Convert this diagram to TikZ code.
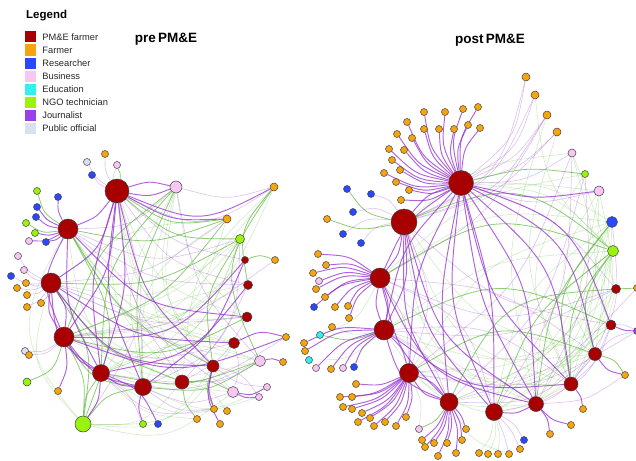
\documentclass[tikz,border=0pt]{standalone}
\usepackage{fontspec}
\setmainfont{Liberation Sans}
\usepackage{tikz}
\usetikzlibrary{positioning,backgrounds}

\definecolor{pmfarm}{HTML}{A80000}
\definecolor{farmer}{HTML}{F6A511}
\definecolor{research}{HTML}{2A48FF}
\definecolor{business}{HTML}{F7C6F2}
\definecolor{educ}{HTML}{33F0F0}
\definecolor{ngo}{HTML}{9AF20F}
\definecolor{journ}{HTML}{9B40E8}
\definecolor{public}{HTML}{D9E0EE}
\definecolor{epurple}{HTML}{9430D0}
\definecolor{egreen}{HTML}{5CB83A}

\tikzset{
	nd/.style={circle, draw=black!75, line width=0.5pt, inner sep=0pt},
	pe/.style={draw=epurple, draw opacity=0.75, line width=0.95pt},
	pl/.style={draw=epurple, draw opacity=0.3, line width=0.6pt},
	ge/.style={draw=egreen, draw opacity=0.7, line width=0.8pt},
	gl/.style={draw=egreen, draw opacity=0.28, line width=0.6pt},
	legbox/.style={minimum size=11pt, inner sep=0pt},
	legtext/.style={anchor=west, inner sep=0pt, font=\fontsize{9.3}{11}\selectfont, text=black!85},
	ttl/.style={font=\bfseries\fontsize{13.5}{15}\selectfont}
}

\begin{document}
\begin{tikzpicture}[x=1pt,y=-1pt]
	\useasboundingbox (0,0) rectangle (636,460);
	\clip (0,0) rectangle (636,460);

	% Legend
	\node[anchor=west, inner sep=0pt, font=\bfseries\fontsize{11.5}{13}\selectfont] (legtitle) at (26,16) {Legend};
	\foreach \t/\c [count=\i] in {PM\&E farmer/pmfarm, Farmer/farmer, Researcher/research, Business/business, Education/educ, NGO technician/ngo, Journalist/journ, Public official/public}{
		\node[legbox, fill=\c] (leg\i) at (30.5,24+13*\i) {};
		\node[legtext, right=6pt of leg\i] (legt\i) {\t};
	}

	% Titles
	\node[ttl] (pretitle) at (166,39) {pre\,PM\&E};
	\node[ttl] (posttitle) at (490,40) {post\,PM\&E};

	%pre PM&E network
	%hubs
	\foreach \n/\x/\y/\d in {lA/117/191/24, lB/68/229/20, lC/51/283/20, lD/64/337/20, lE/101/373/17, lF/143/387/17, lG/182/382/14, lH/213/366/12, lI/234/343/11, lJ/247/317/10, lK/248/285/9, lL/245/260/7}
		\node[nd, fill=pmfarm, minimum size=\d] (\n) at (\x,\y) {};
	%others
	\foreach \n/\x/\y/\c/\d in {l1/176/187/business/12, l2/274/187/farmer/8, l3/227/219/farmer/8, l4/240/239/ngo/9, l5/275/260/farmer/7, l6/286/337/farmer/7, l7/260/361/business/11, l8/283/362/farmer/7, l9/233/392/business/11, l10/267/387/business/7, l11/259/397/business/7, l12/214/409/farmer/7, l13/227/411/farmer/7, l14/220/424/farmer/7, l15/197/419/farmer/7, l16/143/424/ngo/7, l17/158/424/research/7, l18/83/424/ngo/16, l19/58/391/farmer/7, l20/27/382/ngo/8, l21/25/351/public/7, l22/29/355/farmer/7, l23/18/256/business/7, l24/24/270/business/7, l25/11/276/research/7, l26/26/283/farmer/7, l27/17/288/farmer/7, l28/27/295/farmer/7, l29/41/303/farmer/7, l30/27/307/farmer/7, l31/37/191/ngo/7, l32/58/197/research/7, l33/37/207/research/7, l34/36/217/research/7, l35/26/223/ngo/7, l36/35/233/ngo/7, l37/29/241/business/7, l38/46/242/research/7, l39/105/154/farmer/7, l40/87/162/public/7, l41/117/165/business/7, l42/92/175/research/7}
		\node[nd, fill=\c, minimum size=\d] (\n) at (\x,\y) {};

	%post PM&E network
	%hubs
	\foreach \n/\x/\y/\d in {rP/461/183/25, rQ/404/222/26, rR/380/278/20, rS/384/330/20, rT/409/373/19, rU/449/402/18, rV/494/412/17, rW/536/404/15, rX/571/384/14, rY/595/354/13, rZ/611/325/10, rZZ/616/289/9}
		\node[nd, fill=pmfarm, minimum size=\d] (\n) at (\x,\y) {};
	%others
	\foreach \n/\x/\y/\c/\d in {r1/526/77/farmer/8, r2/535/95/farmer/8, r3/547/115/farmer/8, r4/557/132/farmer/8, r5/572/153/business/8, r6/585/174/ngo/7, r7/599/191/business/10, r8/612/222/research/11, r9/613/251/ngo/11, r10/637/288/farmer/7, r11/637/331/journ/7, r12/625/375/farmer/7, r13/583/409/farmer/7, r14/571/425/farmer/7, r15/550/434/farmer/7, r16/524/440/research/7, r17/520/449/farmer/7, r18/509/454/farmer/7, r19/498/454/farmer/7, r20/488/454/farmer/7, r21/479/453/farmer/7, r22/419/429/business/7, r23/466/429/farmer/7, r24/462/440/farmer/7, r25/447/443/farmer/7, r26/434/443/farmer/7, r27/422/440/farmer/7, r28/425/447/farmer/7, r29/438/456/farmer/7, r30/456/453/farmer/7, r31/356/384/farmer/7, r32/340/397/farmer/7, r33/352/397/farmer/7, r34/343/407/farmer/7, r35/352/409/farmer/7, r36/362/413/farmer/7, r37/370/418/farmer/7, r38/385/422/farmer/7, r39/396/426/farmer/7, r40/406/417/farmer/7, r41/358/422/farmer/7, r42/374/426/farmer/7, r43/332/327/farmer/7, r44/320/335/educ/7, r45/304/343/farmer/7, r46/305/351/farmer/7, r47/309/360/educ/7, r48/316/368/business/7, r49/331/369/farmer/7, r50/343/368/business/7, r51/354/367/research/7, r52/318/254/farmer/7, r53/326/265/farmer/7, r54/313/273/farmer/7, r55/319/281/business/7, r56/316/289/farmer/7, r57/325/297/farmer/7, r58/314/307/research/7, r59/335/307/farmer/7, r60/348/306/farmer/7, r61/349/318/farmer/7, r62/347/189/research/7, r63/371/194/research/7, r64/353/212/research/7, r65/343/234/research/7, r66/361/243/research/7, r67/327/219/farmer/7, r70/424/112/farmer/7, r71/445/112/farmer/7, r72/463/109/farmer/7, r73/478/107/farmer/7, r74/407/122/farmer/7, r75/424/129/farmer/7, r76/439/129/farmer/7, r77/454/129/farmer/7, r78/468/125/farmer/7, r79/480/128/farmer/7, r80/397/134/farmer/7, r81/412/138/farmer/7, r82/389/149/farmer/7, r83/404/150/farmer/7, r84/392/160/farmer/7, r85/400/170/farmer/7, r86/384/173/farmer/7, r87/396/182/farmer/7, r88/409/190/farmer/7, r89/401/200/farmer/7}
		\node[nd, fill=\c, minimum size=\d] (\n) at (\x,\y) {};

	% Edges, behind the nodes
	\begin{scope}[on background layer, looseness=1.35]
		%pre: light green
		\foreach \a/\b/\k in {lA/lG/-25, lA/lI/-30, lA/lJ/-25, lA/l7/-30, lB/lG/-30, lB/lI/-20, lB/l7/-25, lC/lH/-20, lC/l9/-25, lC/l3/15, lD/l4/-20, lD/l2/-15, lE/l4/-25, lE/l3/-20, lF/l1/20, lG/l1/20, lG/l2/20, lH/l1/25, lI/lB/25, lJ/lB/30, lK/lC/25, lL/lD/20, l1/l9/-25, l1/lJ/-20, l3/lF/-30, l4/lE/25, l18/lG/-25, l18/lH/-30, l18/l9/-25, l18/lI/-30, lC/l18/-30, lB/l18/-35, lE/l11/-25, lF/l10/-25, lD/l7/-20, l7/lE/-20, l4/lC/25, l2/lD/30, lK/lE/-20, lJ/lF/-30, lG/l13/20, l15/lE/20}
			\draw[gl] (\a) to[bend left=\k] (\b);
		%pre: light purple
		\foreach \a/\b/\k in {lA/l2/-30, lA/lL/-15, lA/lK/-20, lB/l1/-20, lC/lJ/-15, lD/lI/-15, lE/l7/-20, lF/l9/-20, lG/l7/-15, lH/l10/-15, lH/l11/20, lI/l9/15, l1/l2/-15, lB/l4/-20, lC/l3/-15, lD/l5/-15, lE/l6/-20, lF/lK/-20, lG/lJ/-15, lA/l9/-25, l1/l7/-15, l4/lG/20, lA/l18/25, lB/lF/25, lC/lG/20, lD/lH/20, l16/lE/-15, lB/lK/-15, lF/l12/-20, lE/l12/-25}
			\draw[pl] (\a) to[bend left=\k] (\b);
		%pre: green
		\foreach \a/\b/\k in {l18/lD/-15, l18/lC/-20, l18/lE/15, l18/lB/-25, l18/lF/20, lA/l4/-20, lB/l3/-15, lC/l4/-15, lD/lJ/-20, lE/l7/-15, lF/l7/-18, l1/lF/-15, l1/lE/-20, l1/lD/-15, l2/l7/-30, l4/lH/-20, lG/l9/15, lC/lG/-15, lB/lH/-15, lA/l3/-20, l3/lD/15, lG/l15/-15, l2/lK/-25, lL/l5/20, l20/lD/-25, lA/l41/-15, lB/l31/20, lB/l35/20, lD/lF/-25, l12/lH/20}
			\draw[ge] (\a) to[bend left=\k] (\b);
		%pre: purple
		\foreach \a/\b/\k in {lA/lB/15, lA/lC/20, lA/lD/15, lA/lE/-12, lA/lF/-15, lA/lE/12, lA/l1/-15, lA/l1/15, lA/l3/-15, lA/lH/-15, lB/lD/-25, lB/lE/-15, lC/lD/-20, lC/lE/-25, lC/lD/20, lD/lE/-15, lD/lF/-20, lE/lF/-15, lD/lL/-25, lE/lK/-20, lF/lL/-15, lC/lI/-15, lB/lJ/-20, lD/l6/-20, lE/l17/20, lF/l16/-15, lI/l6/20, lH/l12/-15, lH/l14/-20, l7/l8/15, l9/l11/-15, l9/l10/-20, lE/l18/15, lD/l19/15, lC/lH/-25, lA/l2/-25}
			\draw[pe] (\a) to[bend left=\k] (\b);
		%pre: spokes
		\foreach \i in {32,33,34,36,37,38}
			\draw[pe] (lB) to[bend left=15] (l\i);
		\foreach \i in {23,24,25,26,27,28,29,30}
			\draw[pl] (lC) to[bend left=15] (l\i);
		\foreach \i in {39,40,41,42}
			\draw[pl] (lA) to[bend left=15] (l\i);
		\foreach \i in {21,22}
			\draw[pl] (lD) to[bend left=20] (l\i);

		%post: light green
		\foreach \a/\b/\k in {rQ/rY/-20, rQ/rX/-25, rQ/rW/-30, rR/rY/-25, rR/rX/-30, rS/rY/-25, rS/rZ/-20, rT/rZ/-25, rT/rZZ/-20, rU/r9/-20, rU/r8/-25, rV/r9/-20, rV/r7/-15, rW/r8/-20, rW/r7/-15, rX/r7/-20, rX/r5/-15, rY/r5/-15, r9/rZ/-20, r9/rZZ/-15, r8/rZ/-25, r8/rY/-25, r7/rY/-30, r6/rX/-30, rP/r9/20, rP/r8/15, rQ/r7/15, rR/r8/20, rS/r9/15, rT/r8/20, rU/rZ/-15, rV/rZZ/-15, rW/rZZ/-20, r9/rW/-25, r8/rV/-20, rQ/r5/15, rR/r6/15, r4/rX/-20, r3/rW/-15, r2/r9/-20, rT/r22/15, rV/r21/15, rV/r20/15, rV/r19/10, rU/r18/-20, rS/r43/15, rR/r44/20, rS/r47/20, rT/rX/-30, rS/rW/-30}
			\draw[gl] (\a) to[bend left=\k] (\b);
		%post: light purple
		\foreach \a/\b/\k in {rP/r1/-20, rP/r2/-20, rP/r3/-15, rP/r4/-15, rP/r5/-15, rP/r7/-15, rQ/r4/-15, rQ/r3/-20, rQ/r1/-25, rR/rZZ/-20, rS/rZZ/-15, rT/r11/-20, rU/r10/-15, rV/r16/15, rV/r17/10, rV/r18/5, rW/rZ/-20, rX/rZ/-15, rP/rZZ/15, rQ/rZ/-15, rR/rV/25, rS/rU/20, rT/rW/20, rQ/rT/20, rR/rT/15, rU/rY/-20, rV/rY/-20, rW/r12/-15, rY/r11/15, rZ/r11/15, rQ/r2/-20, rR/r3/-15, rT/r5/-15, rU/r6/-15, rV/r5/-15, rW/r6/-15, rX/r8/-20, rR/rY/15, rS/rX/20}
			\draw[pl] (\a) to[bend left=\k] (\b);
		%post: green
		\foreach \a/\b/\k in {rQ/r9/30, rR/r9/25, rS/rZ/25, r9/rY/-25, r8/rX/-25, r9/rX/-20, rT/rY/25, rY/r12/20, rP/r6/10, rZZ/r10/0, rQ/r62/20, rQ/r67/15, rU/r22/15, r9/rV/-15, r8/rW/-15, rS/r44/15, rU/rZZ/30}
			\draw[ge] (\a) to[bend left=\k] (\b);
		%post: purple
		\foreach \a/\b/\k in {rP/rQ/-15, rP/rR/-15, rP/rS/-15, rP/rT/-12, rP/rU/-8, rP/rV/8, rP/rW/15, rP/rX/20, rP/rY/25, rP/rZ/25, rQ/rR/15, rQ/rS/15, rR/rS/15, rR/rS/-15, rR/rU/-15, rS/rT/15, rT/rU/15, rQ/rU/-15, rR/rW/-25, rS/rX/-20, rQ/rV/-15, rQ/rW/-20, rP/r7/-10, rY/r12/-20, rP/rX/-15, rP/rW/-10, rP/rV/-15, rT/rU/-20, rS/rU/-25, rZ/r11/-10, rW/r15/15, rW/r14/-15, rX/r13/15, rV/rW/-15}
			\draw[pe] (\a) to[bend left=\k] (\b);
		%post: spokes
		\foreach \i in {70,71,...,89}
			\draw[pe] (rP) to[bend left=16] (r\i);
		\foreach \i in {63,64,65,66}
			\draw[pl] (rQ) to[bend right=20] (r\i);
		\foreach \i in {52,53,...,61}
			\draw[pe] (rR) to[bend right=16] (r\i);
		\foreach \i in {45,46,48,49,50,51}
			\draw[pe] (rS) to[bend right=15] (r\i);
		\foreach \i in {31,32,...,42}
			\draw[pe] (rT) to[bend left=14] (r\i);
		\foreach \i in {23,24,...,30}
			\draw[pe] (rU) to[bend left=12] (r\i);
	\end{scope}
\end{tikzpicture}
\end{document}
